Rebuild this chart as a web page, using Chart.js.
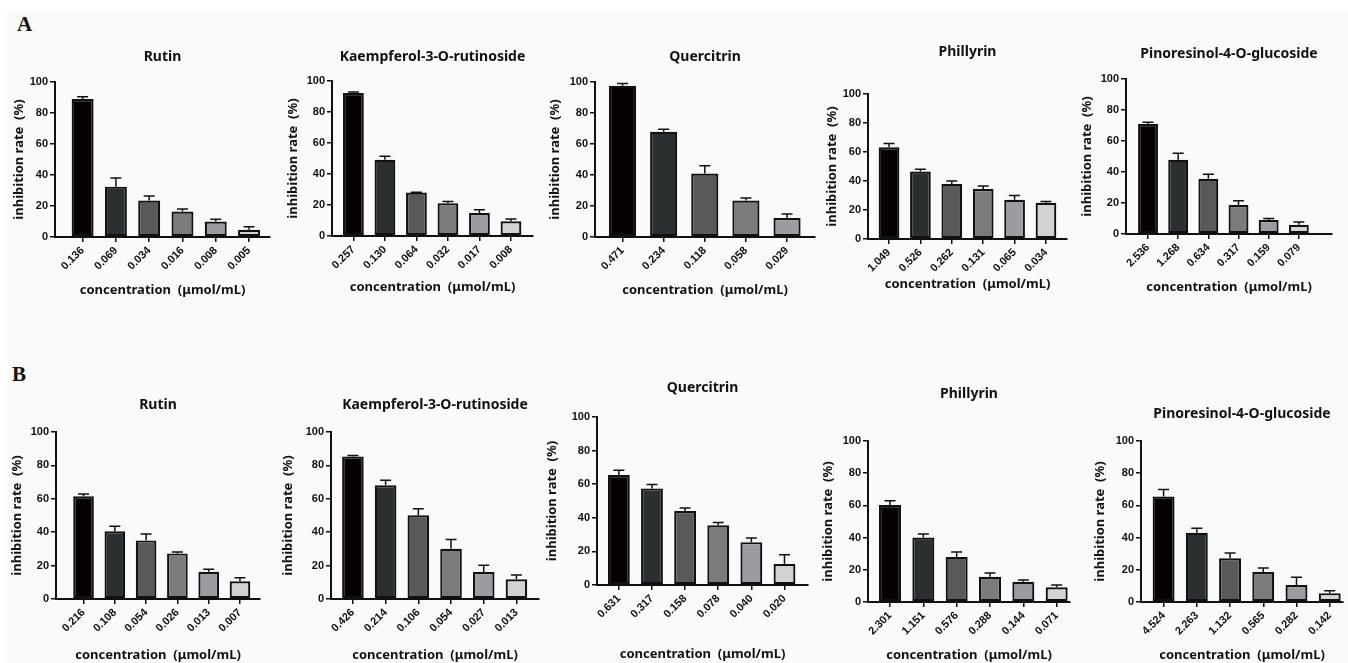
<!DOCTYPE html>
<html>
<head>
<meta charset="utf-8">
<script src="https://cdn.jsdelivr.net/npm/chart.js@4.4.1/dist/chart.umd.min.js"></script>
<style>
  html, body { margin: 0; padding: 0; background: #fff; overflow: hidden; }
  body { width: 1348px; height: 663px; position: relative; }
  #bg { position: absolute; left: 7px; top: 12px; right: 0; bottom: 0; background: #fafafa; }
  canvas { position: absolute; }
  .tag { position: absolute; font-family: "Liberation Serif", serif; font-weight: bold; font-size: 21px; color: #111; }
</style>
</head>
<body>
<div id="bg"></div>
<div class="tag" style="left:17px;top:12px">A</div>
<div class="tag" style="left:12px;top:362px">B</div>

<script>
// ---- data (mean inhibition rate %, SD) ----
const aRutinConc = ['0.136', '0.069', '0.034', '0.016', '0.008', '0.005'];
const aRutinMean = [89, 32.5, 23.5, 16.5, 10, 4.6];
const aRutinSd = [1.5, 5.5, 3, 1.5, 1.5, 2];

const aKaempConc = ['0.257', '0.130', '0.064', '0.032', '0.017', '0.008'];
const aKaempMean = [92.3, 49.2, 28, 21.2, 14.8, 9.5];
const aKaempSd = [0.6, 2.3, 0.3, 1.1, 2.2, 1.5];

const aQuercConc = ['0.471', '0.234', '0.118', '0.058', '0.029'];
const aQuercMean = [97.6, 67.9, 40.9, 23.5, 12.3];
const aQuercSd = [1.5, 1.6, 5, 1.7, 2.5];

const aPhilConc = ['1.049', '0.526', '0.262', '0.131', '0.065', '0.034'];
const aPhilMean = [63.2, 46.5, 38, 34.5, 27, 25];
const aPhilSd = [2.7, 1.6, 2, 2, 3, 0.8];

const aPinoConc = ['2.536', '1.268', '0.634', '0.317', '0.159', '0.079'];
const aPinoMean = [71, 47.9, 35.6, 18.7, 9, 6];
const aPinoSd = [1.1, 4.2, 3, 2.8, 1, 1.7];

const bRutinConc = ['0.216', '0.108', '0.054', '0.026', '0.013', '0.007'];
const bRutinMean = [61.5, 40.5, 35.1, 27.3, 16.3, 10.6];
const bRutinSd = [1.4, 3, 3.8, 0.9, 1.5, 2.1];

const bKaempConc = ['0.426', '0.214', '0.106', '0.054', '0.027', '0.013'];
const bKaempMean = [85.4, 68.1, 50.1, 30.1, 16.2, 11.8];
const bKaempSd = [0.6, 3, 4, 5.6, 4, 2.6];

const bQuercConc = ['0.631', '0.317', '0.158', '0.078', '0.040', '0.020'];
const bQuercMean = [65.5, 57.5, 44, 35.5, 25.5, 12.5];
const bQuercSd = [2.8, 2.3, 1.8, 1.7, 2.5, 5.5];

const bPhilConc = ['2.301', '1.151', '0.576', '0.288', '0.144', '0.071'];
const bPhilMean = [60.2, 40, 28, 15.7, 12.6, 9.2];
const bPhilSd = [2.7, 2.3, 3, 2.3, 1, 1.3];

const bPinoConc = ['4.524', '2.263', '1.132', '0.565', '0.282', '0.142'];
const bPinoMean = [65.5, 43, 27.2, 18.6, 10.6, 5.5];
const bPinoSd = [4.4, 2.8, 3.3, 2.5, 4.7, 1.5];

const yTicks = [0, 20, 40, 60, 80, 100];
const barColors = ['#070202', '#2b2f2f', '#595959', '#7b7b7b', '#9c9ca0', '#d3d3d3'];

const xTitle = 'concentration  (μmol/mL)';
const yTitle = 'inhibition rate  (%)';

// ---- panel layout (page pixels) ----
const panels = [
  { title: 'Rutin', conc: aRutinConc, mean: aRutinMean, sd: aRutinSd, ax: 55, xe: 270, yt: 57, y100: 82, y0: 237, yx: 290, d: 36, min: 0.17, max: 6.63 },
  { title: 'Kaempferol-3-O-rutinoside', conc: aKaempConc, mean: aKaempMean, sd: aKaempSd, ax: 332, xe: 533, yt: 57, y100: 81, y0: 236, yx: 287, d: 39, min: 0.32, max: 6.7 },
  { title: 'Quercitrin', conc: aQuercConc, mean: aQuercMean, sd: aQuercSd, ax: 595, xe: 815, yt: 57, y100: 82, y0: 237, yx: 290, d: 40, min: 0.33, max: 5.68 },
  { title: 'Phillyrin', conc: aPhilConc, mean: aPhilMean, sd: aPhilSd, ax: 868, xe: 1067, yt: 52, y100: 94, y0: 239, yx: 284, d: 36, min: 0.33, max: 6.67 },
  { title: 'Pinoresinol-4-O-glucoside', conc: aPinoConc, mean: aPinoMean, sd: aPinoSd, ax: 1126, xe: 1332, yt: 54, y100: 79, y0: 234, yx: 287, d: 39, min: 0.27, max: 7.1 },
  { title: 'Rutin', conc: bRutinConc, mean: bRutinMean, sd: bRutinSd, ax: 56, xe: 260, yt: 405, y100: 432, y0: 599, yx: 655, d: 39, min: 0.12, max: 6.64 },
  { title: 'Kaempferol-3-O-rutinoside', conc: bKaempConc, mean: bKaempMean, sd: bKaempSd, ax: 331, xe: 539, yt: 405, y100: 432, y0: 599, yx: 655, d: 43, min: 0.33, max: 6.69 },
  { title: 'Quercitrin', conc: bQuercConc, mean: bQuercMean, sd: bQuercSd, ax: 597, xe: 808, yt: 388, y100: 417, y0: 585, yx: 654, d: 45, min: 0.34, max: 6.71 },
  { title: 'Phillyrin', conc: bPhilConc, mean: bPhilMean, sd: bPhilSd, ax: 868, xe: 1070, yt: 394, y100: 441, y0: 602, yx: 655, d: 40, min: 0.34, max: 6.4 },
  { title: 'Pinoresinol-4-O-glucoside', conc: bPinoConc, mean: bPinoMean, sd: bPinoSd, ax: 1141, xe: 1343, yt: 414, y100: 441, y0: 602, yx: 655, d: 41, min: 0.32, max: 6.4 }
];

// error bars (upper only, like the GraphPad figure)
const errorBars = {
  id: 'errorBars',
  afterDatasetsDraw(chart) {
    const ds = chart.data.datasets[0];
    const meta = chart.getDatasetMeta(0);
    const y = chart.scales.y;
    const ctx = chart.ctx;
    ctx.save();
    ctx.strokeStyle = '#111';
    ctx.lineWidth = 1.5;
    meta.data.forEach((bar, i) => {
      const top = y.getPixelForValue(ds.data[i].y + ds.sd[i]);
      ctx.beginPath();
      ctx.moveTo(bar.x, bar.y);
      ctx.lineTo(bar.x, top);
      ctx.moveTo(bar.x - 5.5, top);
      ctx.lineTo(bar.x + 5.5, top);
      ctx.stroke();
    });
    ctx.restore();
  }
};

const titleFont = { family: '"Noto Sans", sans-serif', weight: 'bold', size: 14, lineHeight: 1.2 };
const axisTitleFont = { family: '"Noto Sans", sans-serif', weight: 'bold', size: 13, lineHeight: 1.2 };
const tickFont = { family: '"Liberation Sans", Arial, sans-serif', weight: 'bold', size: 11 };

panels.forEach(p => {
  const left = p.ax - 56;
  const top = Math.round(p.yt - 12.4);
  const w = p.xe + 2 - left;
  const h = p.yx + 10 - top;
  const cv = document.createElement('canvas');
  cv.width = w; cv.height = h;
  cv.style.left = left + 'px';
  cv.style.top = top + 'px';
  cv.style.width = w + 'px';
  cv.style.height = h + 'px';
  document.body.appendChild(cv);

  const bottomH = h - (p.y0 - top);
  const titleBottomPad = (p.y100 - top) - 4 - 16.8;

  new Chart(cv, {
    type: 'bar',
    data: {
      datasets: [{
        data: p.mean.map((v, i) => ({ x: i + 1, y: v })),
        sd: p.sd,
        backgroundColor: barColors.slice(0, p.mean.length),
        borderColor: '#111',
        borderWidth: 2.2,
        borderSkipped: false,
        categoryPercentage: 1,
        barPercentage: 0.66
      }]
    },
    options: {
      responsive: false,
      animation: false,
      devicePixelRatio: 1,
      layout: { padding: { left: 0, right: 2, top: 0, bottom: 0 } },
      plugins: {
        legend: { display: false },
        tooltip: { enabled: false },
        title: {
          display: true,
          text: p.title,
          fullSize: false,
          color: '#111',
          font: titleFont,
          padding: { top: 4, bottom: titleBottomPad }
        }
      },
      scales: {
        x: {
          type: 'linear',
          min: p.min,
          max: p.max,
          offset: false,
          grid: { display: true, offset: false, drawOnChartArea: false, drawTicks: true, tickLength: 5, color: '#111', lineWidth: 1.5 },
          border: { display: true, color: '#111', width: 2 },
          ticks: {
            stepSize: 1,
            includeBounds: false,
            autoSkip: false,
            minRotation: 45,
            maxRotation: 45,
            padding: 2,
            color: '#111',
            font: tickFont,
            callback: v => p.conc[v - 1]
          },
          title: { display: true, text: xTitle, color: '#111', font: axisTitleFont, padding: { top: 0, bottom: 2 } },
          afterFit: s => { s.height = bottomH; }
        },
        y: {
          min: 0,
          max: 100,
          grid: { display: true, drawOnChartArea: false, drawTicks: true, tickLength: 5, color: '#111', lineWidth: 1.5 },
          border: { display: true, color: '#111', width: 2 },
          afterBuildTicks: s => { s.ticks = yTicks.map(v => ({ value: v })); },
          ticks: { padding: 2, color: '#111', font: tickFont },
          title: { display: true, text: yTitle, color: '#111', font: axisTitleFont, padding: { top: 48.2 - p.d, bottom: 0 } },
          afterFit: s => { s.width = 56; }
        }
      }
    },
    plugins: [errorBars]
  });
});
</script>
</body>
</html>
